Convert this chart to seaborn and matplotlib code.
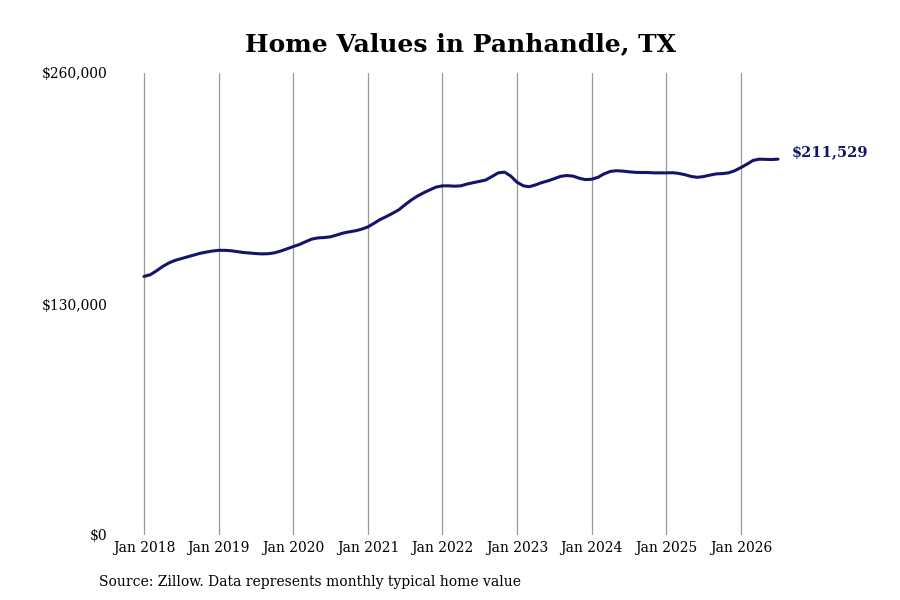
import numpy as np
import pandas as pd
import matplotlib
matplotlib.use("Agg")
import matplotlib.pyplot as plt
import matplotlib.dates as mdates
from matplotlib.ticker import FuncFormatter
import seaborn as sns

# -----------------------------------------------------
# DATA (monthly typical home value)
# -----------------------------------------------------

start_month = "2018-01-01"
values_2018 = [145500, 146500, 148500, 151000, 153000, 154500, 155500, 156500, 157500, 158500, 159200, 159800]
values_2019 = [160200, 160200, 160000, 159500, 159000, 158700, 158400, 158200, 158300, 158800, 159800, 161000]
values_2020 = [162300, 163500, 165000, 166500, 167200, 167400, 167800, 168800, 169900, 170600, 171200, 172100]
values_2021 = [173400, 175500, 177500, 179200, 181000, 183000, 185800, 188500, 190800, 192600, 194300, 195800]
values_2022 = [196500, 196500, 196300, 196500, 197500, 198300, 199000, 199800, 201800, 203800, 204200, 202000]
values_2023 = [198500, 196500, 196000, 197000, 198300, 199300, 200500, 201800, 202300, 202000, 200800, 200000]
values_2024 = [200200, 201300, 203200, 204600, 205000, 204800, 204400, 204100, 204000, 204000, 203800, 203800]
values_2025 = [203800, 203900, 203500, 202800, 201800, 201300, 201700, 202500, 203200, 203400, 203800, 205000]
values_2026 = [206800, 208800, 210800, 211500, 211400, 211300, 211529]

tick_years = list(range(2018, 2027))
y_ticks = [0, 130000, 260000]

title = "Home Values in Panhandle, TX"
source = "Source: Zillow. Data represents monthly typical home value"
line_color = "#14146b"

values = (values_2018 + values_2019 + values_2020 + values_2021 + values_2022
          + values_2023 + values_2024 + values_2025 + values_2026)
df = pd.DataFrame({
    "date": pd.date_range(start_month, periods=len(values), freq="MS"),
    "value": values,
})

# -----------------------------------------------------
# PLOT
# -----------------------------------------------------

sns.set_style("white")
plt.rcParams["font.family"] = ["DejaVu Serif"]
plt.rcParams["text.color"] = "black"

fig = plt.figure(figsize=(9, 6), dpi=100)
# axes box in pixels: x 112..800, y 73..535
ax = fig.add_axes([112 / 900, 65 / 600, 688 / 900, 462 / 600])

sns.lineplot(data=df, x="date", y="value", color=line_color, linewidth=2.2, ax=ax)

# x limits so that Jan 2018 sits at px 144 and Jan 2026 at px 741
d0 = mdates.date2num(pd.Timestamp("2018-01-01"))
d1 = mdates.date2num(pd.Timestamp("2026-01-01"))
px_per_day = (741 - 144) / (d1 - d0)
ax.set_xlim(d0 - (144 - 112) / px_per_day, d0 + (800 - 144) / px_per_day)
ax.set_ylim(0, 260000)

ax.set_xticks([mdates.date2num(pd.Timestamp(f"{y}-01-01")) for y in tick_years])
ax.set_xticklabels([f"Jan {y}" for y in tick_years])
ax.set_yticks(y_ticks)
ax.yaxis.set_major_formatter(FuncFormatter(lambda v, p: f"${v:,.0f}"))
ax.tick_params(axis="both", length=0, labelsize=10, colors="black")
ax.tick_params(axis="y", pad=3)
ax.tick_params(axis="x", pad=4)

ax.grid(axis="x", color="#999999", linewidth=0.9)
ax.grid(axis="y", visible=False)
for s in ax.spines.values():
    s.set_visible(False)
ax.set_xlabel("")
ax.set_ylabel("")

# end label
last = df.iloc[-1]
ax.annotate(f"${last['value']:,.0f}", xy=(mdates.date2num(last["date"]), last["value"]),
            xytext=(10, 0), textcoords="offset points", va="bottom",
            fontsize=10.5, fontweight="bold", color=line_color, annotation_clip=False)

fig.text(461 / 900, 1 - 44 / 600, title, ha="center", va="center",
         fontsize=18, fontweight="bold", color="black")
fig.text(99 / 900, 1 - 582 / 600, source, ha="left", va="center", fontsize=10,
         color="black")

fig.savefig("out.png", dpi=100)
